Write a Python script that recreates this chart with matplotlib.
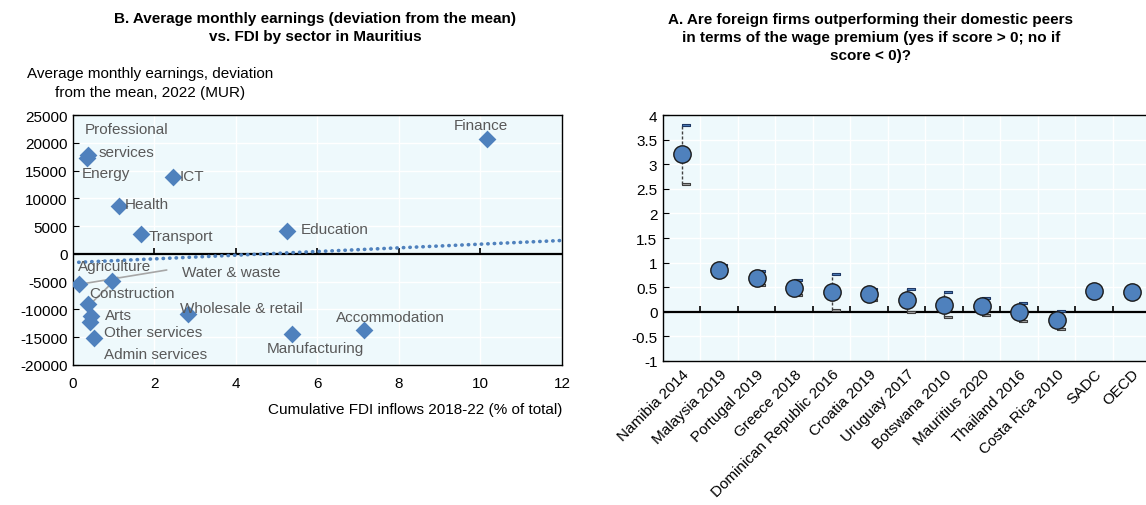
import numpy as np
import matplotlib
matplotlib.use("Agg")
import matplotlib.pyplot as plt
from matplotlib.path import Path

plt.rcParams['font.family'] = ['Liberation Sans', 'DejaVu Sans']

# ---------------- Panel B data ----------------
sectors = ["Finance", "Professional services", "Energy", "ICT", "Health", "Transport",
           "Education", "Agriculture", "Water & waste", "Construction", "Arts",
           "Other services", "Admin services", "Wholesale & retail", "Manufacturing",
           "Accommodation"]
fdi_share = [10.15, 0.36, 0.34, 2.45, 1.14, 1.66, 5.25, 0.14, 0.95, 0.38, 0.44,
             0.41, 0.52, 2.82, 5.38, 7.15]
earnings_dev = [20650, 17800, 17200, 13900, 8600, 3600, 4200, -5500, -4900, -9000,
                -11100, -12200, -15100, -10900, -14500, -13700]
trend_intercept = -1556
trend_slope = 331
trend_x = [0.14, 12]

# ---------------- Panel A data ----------------
countries = ["Namibia 2014", "Malaysia 2019", "Portugal 2019", "Greece 2018",
             "Dominican Republic 2016", "Croatia 2019", "Uruguay 2017", "Botswana 2010",
             "Mauritius 2020", "Thailand 2016", "Costa Rica 2010", "SADC", "OECD"]
score = [3.2, 0.86, 0.69, 0.49, 0.40, 0.36, 0.23, 0.14, 0.11, 0.0, -0.16, 0.42, 0.40]
upper = [3.8, 0.95, 0.82, 0.64, 0.76, 0.47, 0.47, 0.40, 0.29, 0.18, 0.01, np.nan, np.nan]
lower = [2.6, 0.78, 0.54, 0.34, 0.03, 0.24, -0.01, -0.11, -0.07, -0.18, -0.34, np.nan, np.nan]

BG = '#EEF9FC'
BLUE = '#4F81BD'
LABEL_C = '#595959'
FS = 11

fig = plt.figure(figsize=(11.46, 5.06), dpi=100)

TICK_UP = Path([(0, 0), (0, 1)], [Path.MOVETO, Path.LINETO])


def zero_axis(ax, ticks):
    ax.axhline(0, color='black', lw=1.6, zorder=2.5)
    ax.plot(ticks, np.zeros(len(ticks)), linestyle='none', marker=TICK_UP,
            markersize=9, markeredgecolor='black', markeredgewidth=1.2, zorder=2.6)


# ================= Panel B =================
ax1 = fig.add_axes([0.0637, 0.2767, 0.4267, 0.494])
ax1.set_facecolor(BG)
ax1.set_xlim(0, 12)
ax1.set_ylim(-20000, 25000)
ax1.set_xticks(np.arange(0, 13, 2))
ax1.set_yticks(np.arange(-20000, 25001, 5000))
ax1.set_yticklabels([str(v) for v in np.arange(-20000, 25001, 5000)])
ax1.grid(True, color='white', lw=1)
ax1.set_axisbelow(True)
ax1.tick_params(axis='y', direction='in', length=4, labelsize=FS, pad=4)
ax1.tick_params(axis='x', length=0, labelsize=FS, pad=8)
for s in ax1.spines.values():
    s.set_color('black'); s.set_linewidth(1)

zero_axis(ax1, np.arange(2, 12, 2))

tx = np.array(trend_x)
ax1.plot(tx, trend_intercept + trend_slope * tx, linestyle=(0, (0.1, 1.7)), color=BLUE,
         lw=2.6, dash_capstyle='round', zorder=3)

ax1.scatter(fdi_share, earnings_dev, marker='D', s=82, color=BLUE, zorder=4, linewidths=0)

label_pos = {
    "Finance": (10.0, 23200, 'center'),
    "Energy": (0.22, 14600, 'left'),
    "ICT": (2.62, 14050, 'left'),
    "Health": (1.28, 8900, 'left'),
    "Transport": (1.85, 3300, 'left'),
    "Education": (5.6, 4400, 'left'),
    "Agriculture": (0.12, -2200, 'left'),
    "Water & waste": (2.67, -3300, 'left'),
    "Construction": (0.39, -7100, 'left'),
    "Arts": (0.79, -10950, 'left'),
    "Other services": (0.76, -14050, 'left'),
    "Admin services": (0.76, -18100, 'left'),
    "Wholesale & retail": (2.63, -9700, 'left'),
    "Manufacturing": (4.76, -17000, 'left'),
    "Accommodation": (6.45, -11300, 'left'),
}
for name, (lx, ly, ha) in label_pos.items():
    ax1.text(lx, ly, name, ha=ha, va='center', fontsize=FS, color=LABEL_C, zorder=5)
ax1.text(0.29, 22400, "Professional", ha='left', va='center', fontsize=FS, color=LABEL_C)
ax1.text(0.63, 18400, "services", ha='left', va='center', fontsize=FS, color=LABEL_C)

# leader lines
i_ag = sectors.index("Agriculture")
i_co = sectors.index("Construction")
ax1.annotate('', xy=(fdi_share[i_ag], earnings_dev[i_ag]), xytext=(2.3, -2900),
             arrowprops=dict(arrowstyle='-', color='#A6A6A6', lw=1.2, shrinkA=0, shrinkB=0), zorder=3)
ax1.annotate('', xy=(fdi_share[i_co] + 0.05, earnings_dev[i_co]), xytext=(1.1, -4200),
             arrowprops=dict(arrowstyle='-', color='#A6A6A6', lw=1.2, shrinkA=0, shrinkB=0), zorder=3)

ax1.set_xlabel("Cumulative FDI inflows 2018-22 (% of total)", fontsize=FS, ha='right')
ax1.xaxis.set_label_coords(1.0, -0.15)
fig.text(0.131, 0.835, "Average monthly earnings, deviation\nfrom the mean, 2022 (MUR)",
         ha='center', va='center', fontsize=FS, linespacing=1.4)
fig.text(0.275, 0.945, "B. Average monthly earnings (deviation from the mean)\nvs. FDI by sector in Mauritius",
         ha='center', va='center', fontsize=FS, fontweight='bold', linespacing=1.4)

# ================= Panel A =================
ax2 = fig.add_axes([0.5785, 0.2846, 0.4254, 0.486])
ax2.set_facecolor(BG)
n = len(countries)
xs = np.arange(n)
ax2.set_xlim(-0.5, n - 0.5)
ax2.set_ylim(-1, 4)
ax2.set_yticks(np.arange(-1, 4.01, 0.5))
ax2.set_yticklabels(['-1', '-0.5', '0', '0.5', '1', '1.5', '2', '2.5', '3', '3.5', '4'])
ax2.set_xticks(xs)
ax2.set_xticklabels(countries, rotation=45, ha='right', va='top', rotation_mode='anchor', fontsize=FS)
ax2.set_xticks(np.arange(0.5, n - 0.5, 1), minor=True)
ax2.grid(True, which='minor', axis='x', color='white', lw=1)
ax2.grid(True, which='major', axis='y', color='white', lw=1)
ax2.set_axisbelow(True)
ax2.tick_params(axis='y', direction='in', length=4, labelsize=FS, pad=4)
ax2.tick_params(axis='x', which='both', length=0, pad=4)
for s in ax2.spines.values():
    s.set_color('black'); s.set_linewidth(1)

zero_axis(ax2, np.arange(0.5, n - 0.5, 1))

up = np.array(upper); lo = np.array(lower)
for i in range(n):
    if not np.isnan(up[i]):
        ax2.plot([xs[i], xs[i]], [lo[i], up[i]], color='#404040', lw=1,
                 linestyle=(0, (2.2, 1.4)), zorder=3)

cap = Path([(0, -0.3), (1.6, -0.3), (1.6, 0.3), (0, 0.3), (0, -0.3)],
           [Path.MOVETO, Path.LINETO, Path.LINETO, Path.LINETO, Path.CLOSEPOLY])
ax2.plot(xs, up, linestyle='none', marker=cap, markersize=11, markerfacecolor=BLUE,
         markeredgecolor='#1F3864', markeredgewidth=0.8, zorder=4)
ax2.plot(xs, lo, linestyle='none', marker=cap, markersize=11, markerfacecolor='#A6A6A6',
         markeredgecolor='#404040', markeredgewidth=0.8, zorder=4)
ax2.plot(xs, score, linestyle='none', marker='o', markersize=12.5, markerfacecolor=BLUE,
         markeredgecolor='#1A1A1A', markeredgewidth=1, zorder=5)

fig.text(0.76, 0.925, "A. Are foreign firms outperforming their domestic peers\n"
         "in terms of the wage premium (yes if score > 0; no if\nscore < 0)?",
         ha='center', va='center', fontsize=FS, fontweight='bold', linespacing=1.4)

fig.savefig("out.png", dpi=100)
